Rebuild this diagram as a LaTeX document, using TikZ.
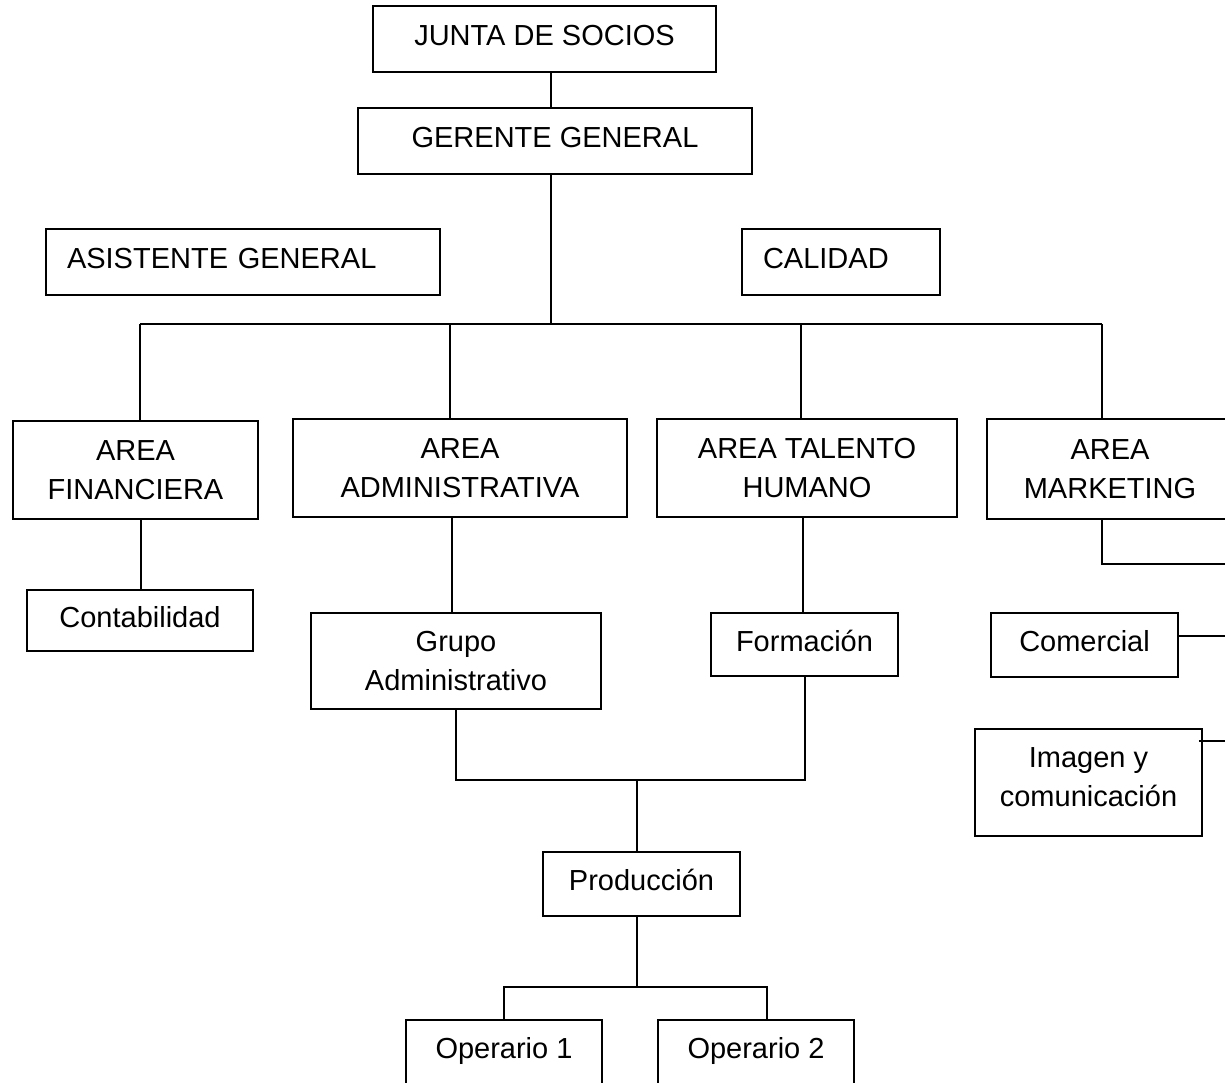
\documentclass[tikz,border=0pt]{standalone}
\usepackage{fontspec}
\setmainfont{Liberation Sans}
\begin{document}
\begin{tikzpicture}[x=1pt,y=-1pt,
  line width=1.6pt,
  box/.style={draw=black, line width=1.6pt, inner sep=0pt, align=center,
    font=\fontsize{29}{39}\selectfont},
  single/.style={text height=21pt, text depth=8pt},
  leftbox/.style={draw=black, line width=1.6pt, inner ysep=0pt, inner xsep=21pt,
    align=left, font=\fontsize{29}{39}\selectfont, single}]
\useasboundingbox (0,0) rectangle (1225,1082);
\fill[white] (0,0) rectangle (1225,1082);
\clip (0,0) rectangle (1225,1082);

% top of the hierarchy
\node[box, single, minimum width=343pt, minimum height=66pt] (junta) at (544.5,39) {JUNTA DE SOCIOS};
\node[box, single, minimum width=394pt, minimum height=66pt] (gerente) at (555,141) {GERENTE GENERAL};

% staff positions
\node[leftbox, text width=352pt, minimum height=66pt] (asist) at (243,262) {ASISTENTE GENERAL};
\node[leftbox, text width=156pt, minimum height=66pt] (calidad) at (841,262) {CALIDAD};

% areas
\node[box, minimum width=245pt, minimum height=98pt] (fin) at (135.5,470) {AREA\\FINANCIERA};
\node[box, minimum width=334pt, minimum height=98pt] (adm) at (460,468) {AREA\\ADMINISTRATIVA};
\node[box, minimum width=300pt, minimum height=98pt] (th) at (807,468) {AREA TALENTO\\HUMANO};
\node[box, minimum width=246pt, minimum height=100pt] (mkt) at (1110,469) {AREA\\MARKETING};

% units
\node[box, single, minimum width=226pt, minimum height=61pt] (cont) at (140,620.5) {Contabilidad};
\node[box, minimum width=290pt, minimum height=96pt] (grupo) at (456,661) {Grupo\\Administrativo};
\node[box, single, minimum width=187pt, minimum height=63pt] (form) at (804.5,644.5) {Formación};
\node[box, single, minimum width=187pt, minimum height=64pt] (com) at (1084.5,645) {Comercial};
\node[box, text depth=10pt, minimum width=227pt, minimum height=107pt] (img) at (1088.5,782.5) {Imagen y\\comunicación};
\node[box, single, minimum width=197pt, minimum height=64pt] (prod) at (641.5,884) {Producción};
\node[box, single, minimum width=196pt, minimum height=64pt] (op1) at (504,1052) {Operario 1};
\node[box, single, minimum width=196pt, minimum height=64pt] (op2) at (756,1052) {Operario 2};

% junction points of the connectors
\coordinate (spine) at (551,324);
\coordinate (b1) at (140,324);
\coordinate (b2) at (450,324);
\coordinate (b3) at (801,324);
\coordinate (b4) at (1102,324);
\coordinate (j1) at (141,600);
\coordinate (j2) at (452,600);
\coordinate (j3) at (803,600);
\coordinate (j4) at (805,700);
\coordinate (pb) at (637,780);
\coordinate (ob) at (637,987);
\coordinate (o2) at (767,987);
\coordinate (m1) at (1102,564);
\coordinate (m2) at (1240,564);

% main spine and bus
\draw (junta.south -| spine) -- (gerente.north -| spine);
\draw (gerente.south -| spine) -- (spine);
\draw (b1) -- (b4);
\draw (b1) -- (b1 |- fin.north);
\draw (b2) -- (b2 |- adm.north);
\draw (b3) -- (b3 |- th.north);
\draw (b4) -- (b4 |- mkt.north);

% area to unit links
\draw (fin.south -| j1) -- (cont.north -| j1);
\draw (adm.south -| j2) -- (grupo.north -| j2);
\draw (th.south -| j3) -- (form.north -| j3);

% production branch
\draw (grupo.south) -- (grupo.south |- pb) -- (j4 |- pb) -- (form.south -| j4);
\draw (pb) -- (prod.north -| pb);
\draw (prod.south -| ob) -- (ob);
\draw (op1.north) -- (op1.north |- ob) -- (o2) -- (o2 |- op2.north);

% marketing branch
\draw (mkt.south -| m1) -- (m1) -- (m2);
\draw ([yshift=9pt]com.east) -- ++(60pt,0);
\draw ([shift={(-4pt,-13pt)}]img.north east) -- ++(60pt,0);
\end{tikzpicture}
\end{document}
